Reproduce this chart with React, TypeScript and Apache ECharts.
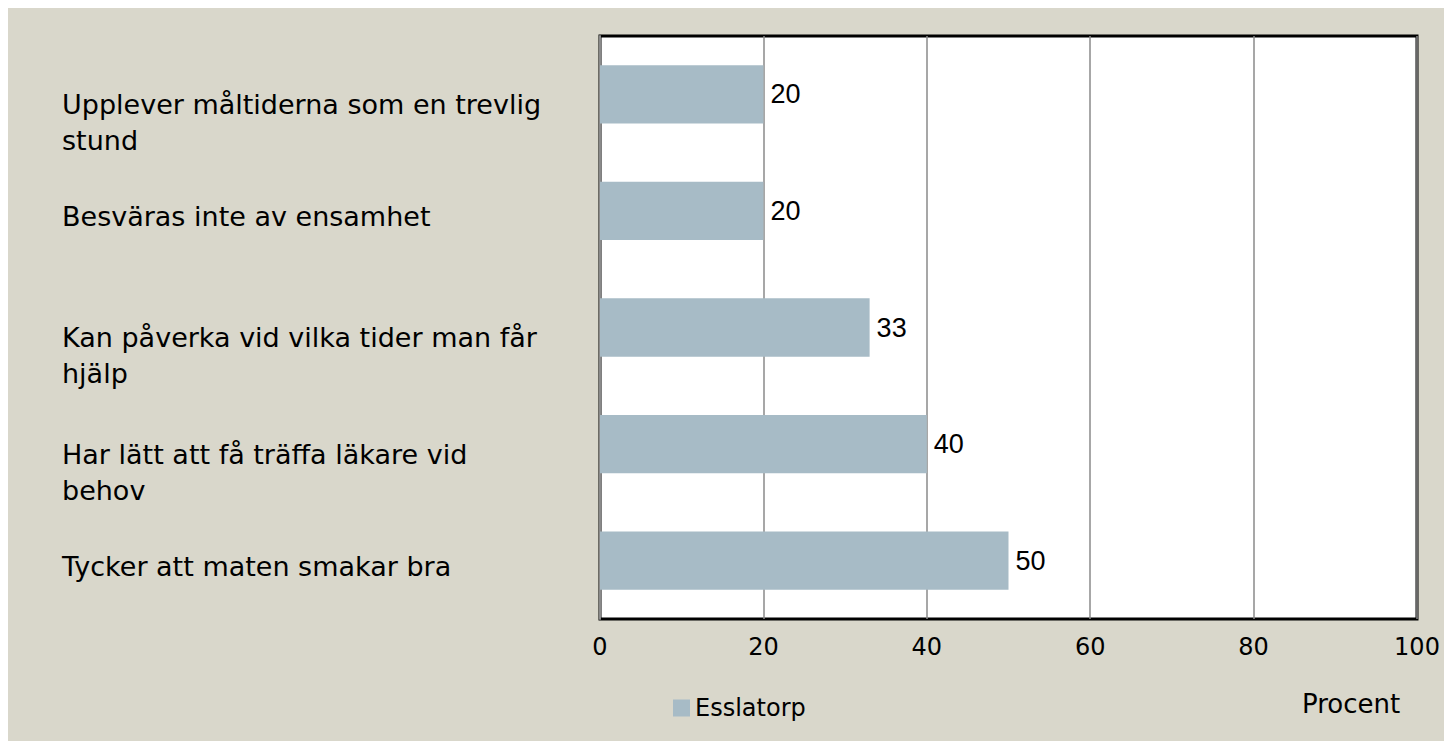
import React, { useEffect, useRef } from "react";
import * as echarts from "echarts";

const categories = [
  "Upplever måltiderna som en trevlig\nstund",
  "Besväras inte av ensamhet",
  "Kan påverka vid vilka tider man får\nhjälp",
  "Har lätt att få träffa läkare vid\nbehov",
  "Tycker att maten smakar bra",
];
const values = [20, 20, 33, 40, 50];
const seriesName = "Esslatorp";
const axisTitle = "Procent";

const GOTHIC = "'DejaVu Sans', sans-serif";
const ARIAL = "'Liberation Sans', Arial, sans-serif";

export default function App() {
  const ref = useRef<HTMLDivElement>(null);
  useEffect(() => {
    document.body.style.overflow = "hidden";
    const chart = echarts.init(ref.current!, null, { renderer: "svg" });
    chart.setOption({
      animation: false,
      backgroundColor: "#d9d7cb",
      grid: {
        left: 592,
        right: 35,
        top: 28,
        bottom: 122,
        containLabel: false,
        outerBoundsMode: "none",
        show: true,
        backgroundColor: "#ffffff",
        borderColor: "#000000",
        borderWidth: 3,
      },
      legend: {
        left: 660,
        top: 683,
        icon: "rect",
        itemWidth: 17,
        itemHeight: 17,
        itemGap: 10,
        textStyle: { fontFamily: GOTHIC, fontSize: 24, color: "#000" },
        data: [seriesName],
      },
      xAxis: {
        type: "value",
        min: 0,
        max: 100,
        interval: 20,
        axisLine: { show: false },
        axisTick: { show: false },
        splitLine: { show: true, lineStyle: { color: "#8a8a8a", width: 1.5 } },
        axisLabel: {
          margin: 16,
          fontFamily: GOTHIC,
          fontSize: 24,
          color: "#000",
        },
      },
      yAxis: {
        type: "category",
        inverse: true,
        data: categories,
        axisLine: { show: true, lineStyle: { color: "#8a8a8a", width: 2 } },
        axisTick: { show: false },
        axisLabel: {
          margin: 538,
          align: "left",
          verticalAlign: "middle",
          fontFamily: GOTHIC,
          fontSize: 27,
          color: "#000",
          formatter: (v: string) => {
            const lines = v.split("\n");
            const spacer = lines.length > 1 ? "{s2| }" : "{s1| }";
            return [spacer, ...lines.map((l) => "{t|" + l + "}")].join("\n");
          },
          rich: {
            s1: { fontSize: 4, lineHeight: 12, align: "left" },
            s2: { fontSize: 4, lineHeight: 56, align: "left" },
            t: { fontFamily: GOTHIC, fontSize: 27, lineHeight: 36, color: "#000", align: "left" },
          },
        },
      },
      series: [
        {
          name: seriesName,
          type: "bar",
          data: values,
          barWidth: "50%",
          itemStyle: { color: "#a7bbc6" },
          label: {
            show: true,
            position: "right",
            distance: 7,
            fontFamily: ARIAL,
            fontSize: 27,
            color: "#000",
          },
        },
      ],
      graphic: [
        {
          type: "text",
          left: 1294,
          top: 683,
          style: { text: axisTitle, fontFamily: GOTHIC, fontSize: 26, fill: "#000" },
        },
      ],
    });
    return () => chart.dispose();
  }, []);
  return <div ref={ref} style={{ width: 1444, height: 733 }} />;
}
